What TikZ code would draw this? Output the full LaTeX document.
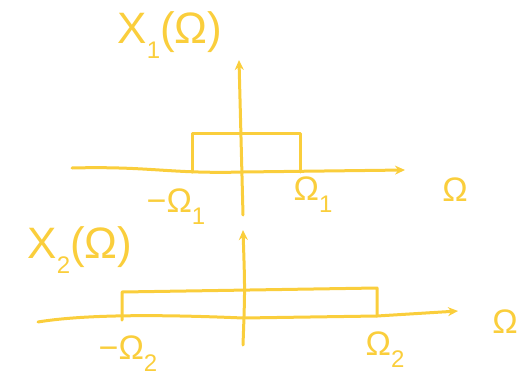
\documentclass[tikz,border=0pt]{standalone}
\usepackage{fontspec}
\setmainfont{Liberation Sans}
\usetikzlibrary{arrows.meta}
\definecolor{hand}{RGB}{250,206,60}
\newcommand{\subx}[1]{\raisebox{-0.35em}{\fontsize{24}{26}\selectfont #1}}
\begin{document}
\begin{tikzpicture}[x=1pt,y=-1pt,
  pen/.style={draw=hand,line width=3pt,line cap=round,line join=round},
  axis/.style={pen,-{Stealth[length=10pt,width=9pt,open]}},
  lbl/.style={text=hand,inner sep=0pt,font=\fontsize{44}{46}\selectfont},
  sml/.style={text=hand,inner sep=0pt,font=\fontsize{34}{36}\selectfont}]
\useasboundingbox (0,0) rectangle (519,378);
% ---- top spectrum
\coordinate (tyb) at (243,215);
\coordinate (tyt) at (239,60);
\coordinate (txl) at (72,168);
\coordinate (txr) at (405,170);
\coordinate (ta) at (192,172);
\coordinate (tb) at (192,133);
\coordinate (tc) at (300,133);
\coordinate (td) at (300,172);
\draw[axis] (tyb) .. controls (241,140) .. (tyt);
\draw[axis] (txl) .. controls (150,166) and (170,174) .. (243,172) -- (txr);
\draw[pen] (ta) -- (tb) -- (tc) -- (td);
\node[lbl] (x1) at (170,35) {X\subx{1}(Ω)};
\node[sml] (m1) at (176,207) {−Ω\subx{1}};
\node[sml] (p1) at (313,195) {Ω\subx{1}};
\node[sml] (o1) at (455,190) {Ω};
% ---- bottom spectrum
\coordinate (byb) at (243,345);
\coordinate (byt) at (243,230);
\coordinate (bxl) at (38,322);
\coordinate (bxr) at (458,311);
\coordinate (ba) at (122,320);
\coordinate (bb) at (122,292);
\coordinate (bc) at (377,288);
\coordinate (bd) at (377,316);
\draw[axis] (byb) .. controls (245,290) .. (byt);
\draw[axis] (bxl) .. controls (80,315) and (150,314) .. (243,318) -- (bd) -- (bxr);
\draw[pen] (ba) -- (bb) -- (bc) -- (bd);
\node[lbl] (x2) at (80,250) {X\subx{2}(Ω)};
\node[sml] (m2) at (128,354) {−Ω\subx{2}};
\node[sml] (p2) at (385,350) {Ω\subx{2}};
\node[sml,anchor=east] (o2) at (518,322) {Ω};
\end{tikzpicture}
\end{document}
